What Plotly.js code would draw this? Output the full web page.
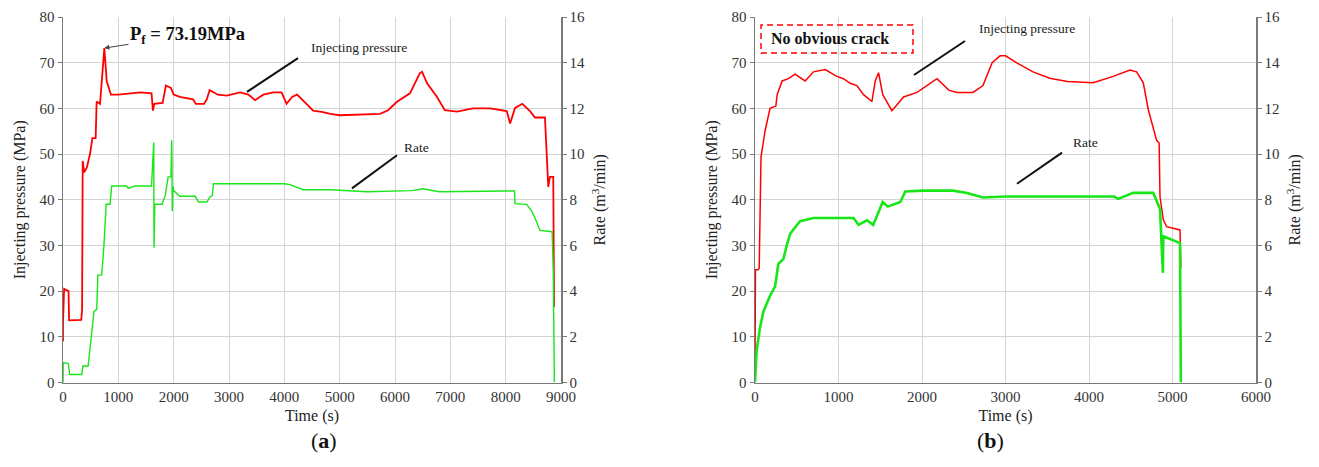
<!DOCTYPE html>
<html>
<head>
<meta charset="utf-8">
<script src="https://cdn.plot.ly/plotly-3.0.1.min.js"></script>
<style>html,body{margin:0;padding:0;background:#fff;}#chart{width:1319px;height:467px;}</style>
</head>
<body>
<div id="chart"></div>
<script>
// ---------- (a) data ----------
const timeA_pressure = [0, 0, 20, 100, 110, 330, 345, 356, 384, 430, 488, 531, 590, 600, 608, 669, 700, 747, 790, 867, 1000, 1200, 1400, 1600, 1610, 1625, 1650, 1800, 1860, 1950, 2000, 2110, 2350, 2400, 2550, 2600, 2650, 2800, 2960, 3200, 3350, 3470, 3620, 3800, 3950, 4040, 4140, 4230, 4400, 4520, 4700, 4830, 5000, 5500, 5730, 5875, 6030, 6270, 6450, 6490, 6580, 6760, 6900, 7120, 7410, 7720, 8020, 8080, 8170, 8300, 8440, 8530, 8710, 8770, 8800, 8860, 8875];
const pressureA = [9, 13, 20.5, 20, 13.6, 13.7, 16, 48.5, 46, 47, 50, 53.5, 53.5, 58, 61.5, 61, 66, 73.19, 66, 63, 63, 63.2, 63.5, 63.3, 60, 59.5, 61, 61.2, 65, 64.5, 63, 62.5, 62, 61, 61, 62, 64, 63, 62.8, 63.5, 63, 61.8, 63, 63.5, 63.5, 61, 62.5, 63, 61, 59.5, 59.2, 58.8, 58.5, 58.6, 58.8, 59.6, 61.4, 63.3, 67.7, 68, 65.5, 62.5, 59.6, 59.3, 60, 60, 59.4, 56.7, 60.1, 61, 59.4, 58, 58, 42.8, 45, 45, 16.5];
const timeA_rate = [0, 5, 90, 100, 120, 340, 360, 455, 480, 545, 560, 610, 630, 700, 740, 780, 850, 880, 1150, 1180, 1300, 1600, 1640, 1645, 1660, 1680, 1790, 1850, 1900, 1950, 1965, 1975, 1985, 2000, 2110, 2390, 2450, 2600, 2650, 2700, 2720, 4000, 4100, 4340, 4830, 5500, 6300, 6500, 6800, 8000, 8160, 8170, 8380, 8470, 8530, 8620, 8840, 8860, 8880];
const rateA = [0, 0.86, 0.84, 0.76, 0.35, 0.35, 0.72, 0.72, 1.3, 3.0, 3.1, 3.2, 4.7, 4.7, 6.0, 7.8, 7.8, 8.6, 8.6, 8.5, 8.6, 8.6, 10.5, 5.9, 7.8, 7.8, 7.8, 8.2, 9.0, 9.0, 10.6, 7.5, 8.6, 8.4, 8.15, 8.15, 7.9, 7.9, 8.1, 8.2, 8.7, 8.7, 8.66, 8.44, 8.44, 8.35, 8.4, 8.48, 8.35, 8.38, 8.38, 7.83, 7.8, 7.5, 7.2, 6.66, 6.6, 5.0, 0];

// ---------- (b) data ----------
const timeB_pressure = [0, 5, 40, 50, 72, 120, 180, 250, 265, 325, 400, 480, 600, 700, 840, 980, 1060, 1140, 1220, 1300, 1400, 1440, 1480, 1530, 1640, 1780, 1940, 2060, 2180, 2320, 2420, 2610, 2730, 2840, 2935, 3000, 3140, 3330, 3530, 3740, 4050, 4290, 4490, 4570, 4650, 4710, 4810, 4840, 4850, 4890, 4930, 5090, 5100];
const pressureB = [2, 24.7, 24.7, 25, 49.4, 55, 60, 60.5, 63, 66, 66.5, 67.5, 66, 68, 68.5, 67, 66.5, 65.5, 65, 63, 61.5, 66, 67.8, 63, 59.5, 62.5, 63.5, 65, 66.5, 64, 63.5, 63.5, 65, 70, 71.5, 71.5, 69.9, 68, 66.6, 65.9, 65.6, 67, 68.4, 68, 65.6, 59.7, 53, 52.4, 40.7, 35.6, 34.1, 33.4, 25.1];
const timeB_rate = [0, 20, 60, 100, 180, 240, 280, 340, 380, 420, 460, 540, 700, 1180, 1240, 1340, 1415, 1530, 1590, 1740, 1800, 2010, 2370, 2540, 2730, 3000, 4300, 4350, 4530, 4770, 4850, 4885, 4890, 5090, 5100];
const rateB = [0, 1.4, 2.4, 3.1, 3.8, 4.2, 5.2, 5.4, 6.0, 6.5, 6.7, 7.06, 7.2, 7.2, 6.9, 7.1, 6.9, 7.9, 7.7, 7.9, 8.36, 8.4, 8.4, 8.3, 8.1, 8.14, 8.14, 8.04, 8.3, 8.3, 7.6, 4.8, 6.4, 6.1, 0];

// ---------- labels ----------
const pressureTicks = [0, 10, 20, 30, 40, 50, 60, 70, 80];
const rateTicks = [0, 2, 4, 6, 8, 10, 12, 14, 16];
const timeTicksA = [0, 1000, 2000, 3000, 4000, 5000, 6000, 7000, 8000, 9000];
const timeTicksB = [0, 1000, 2000, 3000, 4000, 5000, 6000];

const RED = '#ff0000';
const GREEN = 'rgb(25,230,25)';
const FONT = 'Liberation Serif, Times New Roman, serif';
const AXC = '#7a7a7a';
const GRIDC = '#d4d4d4';

const traces = [
  {x: timeA_pressure, y: pressureA, xaxis: 'x', yaxis: 'y', mode: 'lines', line: {color: RED, width: 1.8}, name: 'Injecting pressure'},
  {x: timeA_rate, y: rateA, xaxis: 'x', yaxis: 'y2', mode: 'lines', line: {color: GREEN, width: 1.4}, name: 'Rate'},
  {x: timeB_pressure, y: pressureB, xaxis: 'x2', yaxis: 'y3', mode: 'lines', line: {color: RED, width: 1.5}, name: 'Injecting pressure'},
  {x: timeB_rate, y: rateB, xaxis: 'x2', yaxis: 'y4', mode: 'lines', line: {color: GREEN, width: 2.6}, name: 'Rate'}
];

const W = 1319, H = 467;
const px = v => v / W;
const py = v => 1 - v / H;

const tickFont = {family: FONT, size: 15, color: '#333'};
const titleFont = {family: FONT, size: 16, color: '#222'};

function xAxis(domain, range, ticks, anchor) {
  return {domain: domain, range: range, tickvals: ticks, ticktext: ticks.map(String), anchor: anchor,
    showgrid: true, gridcolor: GRIDC, gridwidth: 1, showline: true, linecolor: AXC, linewidth: 1.5,
    ticks: '', zeroline: false, tickfont: tickFont,
    title: {text: 'Time (s)', font: titleFont, standoff: 6}};
}
function yLeft(range, ticks, anchor) {
  return {domain: [1 - 382.5 / H, 1 - 17 / H], range: range, tickvals: ticks, ticktext: ticks.map(String), anchor: anchor,
    showgrid: true, gridcolor: GRIDC, gridwidth: 1, showline: true, linecolor: AXC, linewidth: 1.5,
    ticks: 'outside', ticklen: 4, tickcolor: AXC, zeroline: false, tickfont: tickFont,
    title: {text: 'Injecting pressure (MPa)', font: titleFont, standoff: 10}};
}
function yRight(range, ticks, anchor, over) {
  return {range: range, tickvals: ticks, ticktext: ticks.map(String), anchor: anchor, overlaying: over, side: 'right',
    showgrid: false, showline: true, linecolor: AXC, linewidth: 1.5,
    ticks: 'outside', ticklen: 4, tickcolor: AXC, zeroline: false, tickfont: tickFont,
    title: {text: 'Rate (m<sup>3</sup>/min)', font: titleFont, standoff: 10}};
}

const layout = {
  width: W, height: H,
  margin: {l: 0, r: 0, t: 0, b: 0},
  paper_bgcolor: '#fff', plot_bgcolor: '#fff',
  showlegend: false,
  font: {family: FONT},
  xaxis: xAxis([px(63), px(561)], [0, 9000], timeTicksA, 'y'),
  yaxis: yLeft([0, 80], pressureTicks, 'x'),
  yaxis2: yRight([0, 16], rateTicks, 'x', 'y'),
  xaxis2: xAxis([px(755), px(1256)], [0, 6000], timeTicksB, 'y3'),
  yaxis3: yLeft([0, 80], pressureTicks, 'x2'),
  yaxis4: yRight([0, 16], rateTicks, 'x2', 'y3'),
  shapes: [
    {type: 'line', xref: 'x', yref: 'y', x0: 4247, y0: 71, x1: 3325, y1: 63.6, line: {color: '#111', width: 2}},
    {type: 'line', xref: 'x', yref: 'y', x0: 6036, y0: 49.75, x1: 5222, y1: 42.5, line: {color: '#111', width: 2}},
    {type: 'rect', xref: 'x2', yref: 'y3', x0: 72, y0: 72.1, x1: 1892, y1: 78.25, line: {color: RED, width: 1.5, dash: '6px,4px'}, fillcolor: 'rgba(0,0,0,0)'},
    {type: 'line', xref: 'x2', yref: 'y3', x0: 2515, y0: 74.75, x1: 1904, y1: 67.3, line: {color: '#111', width: 2}},
    {type: 'line', xref: 'x2', yref: 'y3', x0: 3677, y0: 50.3, x1: 3138, y1: 43.5, line: {color: '#111', width: 2}}
  ],
  annotations: [
    {xref: 'x', yref: 'y', x: 747, y: 73.19, axref: 'x', ayref: 'y', ax: 2250, ay: 76.05,
     text: '<b>P<sub>f</sub> = 73.19MPa</b>', font: {family: FONT, size: 18.5, color: '#111'},
     showarrow: true, arrowhead: 2, arrowsize: 1, arrowwidth: 1, arrowcolor: '#444', standoff: 0},
    {xref: 'x', yref: 'y', x: 5349, y: 73.4, text: 'Injecting pressure', showarrow: false, font: {family: FONT, size: 13.5, color: '#222'}},
    {xref: 'x', yref: 'y', x: 6380, y: 51.5, text: 'Rate', showarrow: false, font: {family: FONT, size: 13.5, color: '#222'}},
    {xref: 'x2', yref: 'y3', x: 898, y: 75.2, text: '<b>No obvious crack</b>', showarrow: false, font: {family: FONT, size: 16, color: '#111'}},
    {xref: 'x2', yref: 'y3', x: 3257, y: 77.4, text: 'Injecting pressure', showarrow: false, font: {family: FONT, size: 13.5, color: '#222'}},
    {xref: 'x2', yref: 'y3', x: 3964, y: 52.5, text: 'Rate', showarrow: false, font: {family: FONT, size: 13.5, color: '#222'}},
    {xref: 'paper', yref: 'paper', x: px(309), y: py(455), text: '(<b>a</b>)', showarrow: false, font: {family: FONT, size: 22, color: '#111'}},
    {xref: 'paper', yref: 'paper', x: px(1006), y: py(455), text: '(<b>b</b>)', showarrow: false, font: {family: FONT, size: 22, color: '#111'}}
  ]
};

Plotly.newPlot('chart', traces, layout, {displayModeBar: false, staticPlot: true});
</script>
</body>
</html>
